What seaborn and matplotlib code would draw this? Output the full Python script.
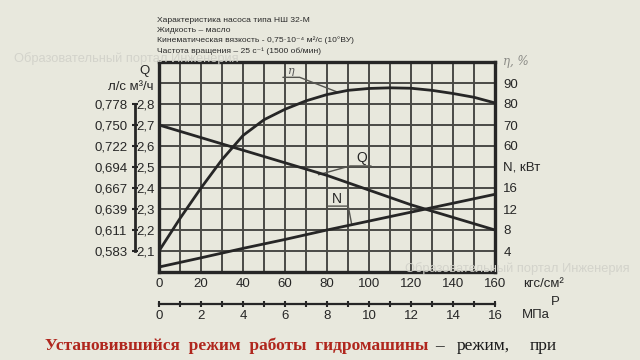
import numpy as np
import pandas as pd
import matplotlib
matplotlib.use('Agg')
import matplotlib.pyplot as plt
import seaborn as sns

# ---- data (pressure in kgf/cm2) ----
eta_pressure = [0, 10, 20, 30, 40, 50, 60, 70, 80, 90, 100, 110, 120, 130, 140, 150, 160]
eta_percent = [10, 25.5, 40, 53.5, 65, 72.5, 77.5, 81.5, 84.5, 86.5, 87.4, 87.7, 87.5, 86.5, 85, 83.2, 80.5]

line_pressure = [0, 20, 40, 60, 80, 100, 120, 140, 160]
flow_m3h = [2.70, 2.64, 2.58, 2.52, 2.46, 2.39, 2.32, 2.26, 2.20]
power_kw = [0.95, 2.7, 4.5, 6.2, 8.0, 9.7, 11.4, 13.1, 14.8]

# ---- scales / tick labels ----
q_ticks_m3h = [2.1, 2.2, 2.3, 2.4, 2.5, 2.6, 2.7, 2.8]
q_labels_m3h = ['2,1', '2,2', '2,3', '2,4', '2,5', '2,6', '2,7', '2,8']
q_labels_ls = ['0,583', '0,611', '0,639', '0,667', '0,694', '0,722', '0,750', '0,778']
eta_ticks = [60, 70, 80, 90]
n_ticks = [4, 8, 12, 16]
p_ticks_kgf = [0, 20, 40, 60, 80, 100, 120, 140, 160]
p_ticks_mpa = [0, 2, 4, 6, 8, 10, 12, 14, 16]

header_lines = [
    'Характеристика насоса типа НШ 32-М',
    'Жидкость – масло',
    'Кинематическая вязкость - 0,75·10⁻⁴ м²/с (10°ВУ)',
    'Частота вращения – 25 с⁻¹ (1500 об/мин)',
]

BG = '#e8e8dd'
INK = '#262626'
GRID = '#4a4a46'
FS = 9.5

sns.set_theme(style='white')
plt.rcParams['font.family'] = ['Liberation Sans', 'DejaVu Sans']

eta_df = pd.DataFrame({'p': eta_pressure, 'eta': eta_percent})
lin_df = pd.DataFrame({'p': line_pressure, 'Q': flow_m3h, 'N': power_kw})

fig = plt.figure(figsize=(6.4, 3.6), dpi=100, facecolor=BG)
W, H = 640, 360
ax = fig.add_axes([159 / W, 88 / H, 336 / W, 210 / H])
ax.set_facecolor(BG)

# Q curve on the main axis (m3/h)
sns.lineplot(data=lin_df, x='p', y='Q', ax=ax, color=INK, linewidth=2, zorder=5)
ax.set_xlim(0, 160)
ax.set_ylim(2.0, 3.0)
ax.set_xticks(p_ticks_kgf)
ax.set_xticklabels([str(v) for v in p_ticks_kgf])
ax.set_xticks(np.arange(0, 161, 10), minor=True)
ax.set_yticks(q_ticks_m3h)
ax.set_yticklabels(q_labels_m3h)
ax.set_yticks(np.arange(2.0, 3.01, 0.1), minor=True)
ax.grid(True, which='both', color=GRID, linewidth=1.4)
ax.tick_params(which='both', length=0, labelsize=FS, colors=INK)
ax.tick_params(axis='x', pad=4.5)
ax.tick_params(axis='y', pad=3)
for s in ax.spines.values():
    s.set_color(INK)
    s.set_linewidth(2.4)
    s.set_visible(True)
ax.set_xlabel('')
ax.set_ylabel('')

# efficiency axis
ax_eta = ax.twinx()
sns.lineplot(data=eta_df, x='p', y='eta', ax=ax_eta, color=INK, linewidth=2, zorder=5)
ax_eta.set_ylim(0, 100)
ax_eta.set_yticks(eta_ticks)
ax_eta.set_yticklabels([str(v) for v in eta_ticks])

# power axis
ax_n = ax.twinx()
sns.lineplot(data=lin_df, x='p', y='N', ax=ax_n, color=INK, linewidth=2, zorder=5)
ax_n.set_ylim(0, 40)
ax_n.set_yticks(n_ticks)
ax_n.set_yticklabels([str(v) for v in n_ticks])

for tw in (ax_eta, ax_n):
    tw.grid(False)
    tw.set_xlabel('')
    tw.set_ylabel('')
    tw.set_xlim(0, 160)
    tw.tick_params(axis='y', length=0, pad=6, labelsize=FS, colors=INK)
    for s in tw.spines.values():
        s.set_visible(False)

# l/s scale next to m3/h labels
sec_q = ax.secondary_yaxis(-24 / 336, functions=(lambda q: q / 3.6, lambda l: l * 3.6))
sec_q.set_yticks([v / 3.6 for v in q_ticks_m3h])
sec_q.set_yticklabels(q_labels_ls)
sec_q.tick_params(direction='inout', length=5, width=1.5, pad=3, labelsize=FS,
                  colors=INK)
sec_q.spines['left'].set_bounds(2.1 / 3.6, 2.8 / 3.6)
sec_q.spines['left'].set_linewidth(2)
sec_q.spines['left'].set_color(INK)

# MPa scale under the kgf/cm2 labels
sec_p = ax.secondary_xaxis(-32 / 210, functions=(lambda p: p / 10, lambda m: m * 10))
sec_p.set_xticks(p_ticks_mpa)
sec_p.set_xticklabels([str(v) for v in p_ticks_mpa])
sec_p.set_xticks(range(0, 17), minor=True)
sec_p.tick_params(which='both', direction='inout', length=5, width=1.5, pad=2,
                  labelsize=FS, colors=INK)
sec_p.spines['bottom'].set_linewidth(1.6)
sec_p.spines['bottom'].set_color(INK)

# curve labels with leaders
lead = dict(color='#555550', linewidth=1)
ax_eta.plot([59, 67, 85.4], [92.7, 92.7, 85.5], **lead)
ax_eta.text(63, 95.6, 'η', ha='center', va='center', fontsize=8, color='#555',
            family='DejaVu Serif', style='italic')
ax.plot([101, 91, 75.9], [2.505, 2.505, 2.463], **lead)
ax.text(96.5, 2.541, 'Q', ha='center', va='center', fontsize=10, color=INK)
ax_n.plot([79.8, 90.1, 91.8], [12.55, 12.55, 9.0], **lead)
ax_n.text(84.5, 13.85, 'N', ha='center', va='center', fontsize=10, color=INK)

# header block
for i, line in enumerate(header_lines):
    fig.text(157 / W, 1 - (20 + i * 10.3) / H, line, ha='left', va='center',
             fontsize=6.1, color='#2a2a2a', family=['Liberation Sans', 'DejaVu Sans'])

# axis captions
fig.text(145 / W, 1 - 71 / H, 'Q', ha='center', va='center', fontsize=FS, color=INK)
fig.text(131 / W, 1 - 87 / H, 'л/с м³/ч', ha='center', va='center', fontsize=FS,
         color=INK)
fig.text(503 / W, 1 - 62 / H, 'η, %', ha='left', va='center', fontsize=8.5,
         color='#8a8a85', family='DejaVu Serif', style='italic')
fig.text(503 / W, 1 - 168 / H, 'N, кВт', ha='left', va='center', fontsize=FS, color=INK)
fig.text(523 / W, 1 - 284 / H, 'кгс/см²', ha='left', va='center', fontsize=FS, color=INK)
fig.text(522 / W, 1 - 315 / H, 'МПа', ha='left', va='center', fontsize=FS, color=INK)
fig.text(551 / W, 1 - 302 / H, 'P', ha='left', va='center', fontsize=FS, color=INK)

# watermarks
wm = dict(fontsize=9.3, color='#d3d3cb', va='center', ha='left')
fig.text(14 / W, 1 - 59 / H, 'Образовательный портал Инженерия', zorder=0, **wm)
fig.text(405 / W, 1 - 269 / H, 'Образовательный портал Инженерия', zorder=10, **wm)

# slide text under the chart
serif = 'Liberation Serif'
fig.text(45 / W, 1 - 346 / H, 'Установившийся  режим  работы  гидромашины',
         ha='left', va='center', fontsize=12.5, fontweight='bold', color='#b0261d',
         family=serif)
fig.text(435 / W, 1 - 346 / H, '–', ha='left', va='center', fontsize=12.5,
         color='#1a1a1a', family=serif)
fig.text(457 / W, 1 - 346 / H, 'режим,', ha='left', va='center', fontsize=12.5,
         color='#1a1a1a', family=serif)
fig.text(557 / W, 1 - 346 / H, 'при', ha='right', va='center', fontsize=12.5,
         color='#1a1a1a', family=serif)

fig.savefig('out.png', dpi=100, facecolor=BG)
